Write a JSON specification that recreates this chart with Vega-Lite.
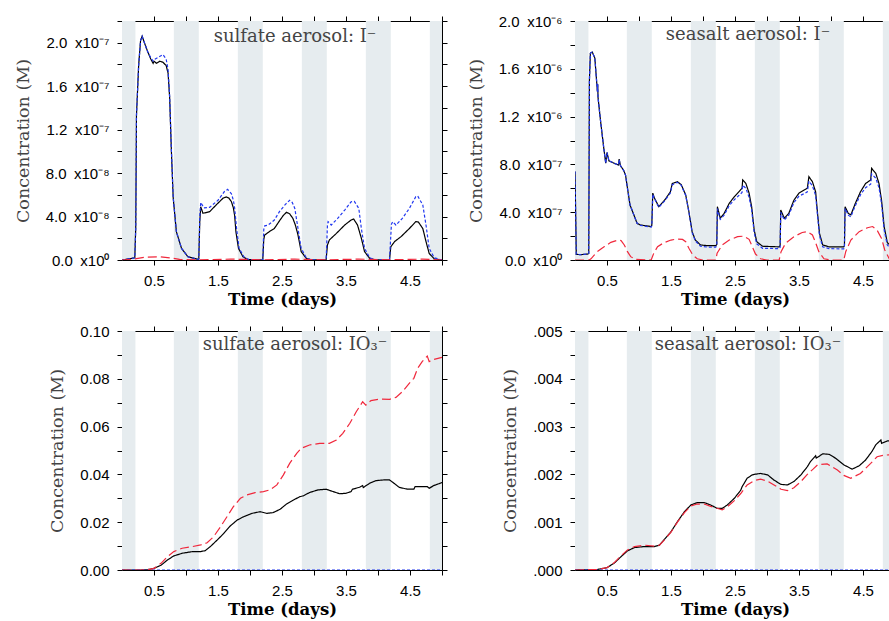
{
  "$schema": "https://vega.github.io/schema/vega-lite/v6.json",
  "autosize": {"type": "none"},
  "padding": {"left": 122, "top": 21, "right": 767, "bottom": 600},
  "background": "white",
  "columns": 2,
  "spacing": {"row": 71, "column": 133},
  "bounds": "flush",
  "config": {
    "view": {"stroke": null},
    "axis": {"grid": false, "domainColor": "#000", "domainWidth": 1, "tickColor": "#000", "tickWidth": 1, "tickSize": 5, "labelFont": "Liberation Sans", "labelFontSize": 15, "labelColor": "#000", "titleFont": "DejaVu Serif", "titleColor": "#000"},
    "axisBottom": {"labelPadding": 8, "titlePadding": 3, "titleFontSize": 16.5, "titleFontWeight": "bold", "zindex": 1},
    "axisLeft": {"labelPadding": 8, "titlePadding": 13, "titleFontSize": 17.5, "titleFontWeight": "normal", "titleColor": "#444"},
    "title": {"font": "DejaVu Serif", "fontSize": 18, "fontWeight": "normal", "color": "#444", "anchor": "middle", "frame": "group", "dx": 13, "offset": -30}
  },
  "datasets": {
    "bands": [
      {"start": 0, "end": 0.21},
      {"start": 0.81, "end": 1.2},
      {"start": 1.81, "end": 2.2},
      {"start": 2.81, "end": 3.2},
      {"start": 3.81, "end": 4.2},
      {"start": 4.81, "end": 5.0}
    ],
    "p1": [
      {"s": "A", "t": 0, "v": 0}, {"s": "A", "t": 0.1, "v": 1e-9}, {"s": "A", "t": 0.2, "v": 2e-9}, {"s": "A", "t": 0.215, "v": 3e-8}, {"s": "A", "t": 0.226, "v": 1.33e-7}, {"s": "A", "t": 0.26, "v": 1.79e-7}, {"s": "A", "t": 0.29, "v": 2.02e-7}, {"s": "A", "t": 0.315, "v": 2.06e-7}, {"s": "A", "t": 0.35, "v": 2.0e-7}, {"s": "A", "t": 0.4, "v": 1.92e-7}, {"s": "A", "t": 0.45, "v": 1.85e-7}, {"s": "A", "t": 0.486, "v": 1.81e-7}, {"s": "A", "t": 0.5, "v": 1.83e-7}, {"s": "A", "t": 0.54, "v": 1.81e-7}, {"s": "A", "t": 0.59, "v": 1.83e-7}, {"s": "A", "t": 0.64, "v": 1.82e-7}, {"s": "A", "t": 0.69, "v": 1.79e-7}, {"s": "A", "t": 0.72, "v": 1.72e-7}, {"s": "A", "t": 0.745, "v": 1.49e-7}, {"s": "A", "t": 0.77, "v": 1.03e-7}, {"s": "A", "t": 0.8, "v": 5.7e-8}, {"s": "A", "t": 0.85, "v": 2.6e-8}, {"s": "A", "t": 0.93, "v": 1.07e-8}, {"s": "A", "t": 1.03, "v": 3e-9}, {"s": "A", "t": 1.19, "v": 6e-10},
      {"s": "A", "t": 1.2, "v": 1e-9}, {"s": "A", "t": 1.215, "v": 3.5e-8}, {"s": "A", "t": 1.23, "v": 4.9e-8}, {"s": "A", "t": 1.265, "v": 4.3e-8}, {"s": "A", "t": 1.37, "v": 4.45e-8}, {"s": "A", "t": 1.47, "v": 5.06e-8}, {"s": "A", "t": 1.58, "v": 5.7e-8}, {"s": "A", "t": 1.63, "v": 5.8e-8}, {"s": "A", "t": 1.67, "v": 5.7e-8}, {"s": "A", "t": 1.71, "v": 5.36e-8}, {"s": "A", "t": 1.74, "v": 4.8e-8}, {"s": "A", "t": 1.76, "v": 4.1e-8}, {"s": "A", "t": 1.78, "v": 2.6e-8}, {"s": "A", "t": 1.82, "v": 1.07e-8}, {"s": "A", "t": 1.89, "v": 3e-9}, {"s": "A", "t": 1.96, "v": 5e-10}, {"s": "A", "t": 2.19, "v": 0},
      {"s": "A", "t": 2.2, "v": 5e-10}, {"s": "A", "t": 2.215, "v": 1.9e-8}, {"s": "A", "t": 2.23, "v": 2.3e-8}, {"s": "A", "t": 2.3, "v": 2.6e-8}, {"s": "A", "t": 2.38, "v": 2.9e-8}, {"s": "A", "t": 2.46, "v": 3.6e-8}, {"s": "A", "t": 2.52, "v": 4.1e-8}, {"s": "A", "t": 2.57, "v": 4.39e-8}, {"s": "A", "t": 2.62, "v": 4.25e-8}, {"s": "A", "t": 2.67, "v": 3.83e-8}, {"s": "A", "t": 2.71, "v": 3.2e-8}, {"s": "A", "t": 2.75, "v": 2.3e-8}, {"s": "A", "t": 2.8, "v": 7.7e-9}, {"s": "A", "t": 2.88, "v": 1.5e-9}, {"s": "A", "t": 2.95, "v": 2e-10}, {"s": "A", "t": 3.18, "v": 0},
      {"s": "A", "t": 3.19, "v": 5e-10}, {"s": "A", "t": 3.21, "v": 1.38e-8}, {"s": "A", "t": 3.24, "v": 1.84e-8}, {"s": "A", "t": 3.35, "v": 2.45e-8}, {"s": "A", "t": 3.48, "v": 3.22e-8}, {"s": "A", "t": 3.58, "v": 3.68e-8}, {"s": "A", "t": 3.62, "v": 3.77e-8}, {"s": "A", "t": 3.68, "v": 3.22e-8}, {"s": "A", "t": 3.74, "v": 2.0e-8}, {"s": "A", "t": 3.79, "v": 7.7e-9}, {"s": "A", "t": 3.87, "v": 1.5e-9}, {"s": "A", "t": 3.95, "v": 2e-10}, {"s": "A", "t": 4.17, "v": 0},
      {"s": "A", "t": 4.18, "v": 5e-10}, {"s": "A", "t": 4.2, "v": 1.22e-8}, {"s": "A", "t": 4.26, "v": 1.7e-8}, {"s": "A", "t": 4.36, "v": 2.15e-8}, {"s": "A", "t": 4.49, "v": 2.9e-8}, {"s": "A", "t": 4.59, "v": 3.53e-8}, {"s": "A", "t": 4.63, "v": 3.5e-8}, {"s": "A", "t": 4.7, "v": 2.9e-8}, {"s": "A", "t": 4.75, "v": 1.7e-8}, {"s": "A", "t": 4.8, "v": 6e-9}, {"s": "A", "t": 4.88, "v": 1e-9}, {"s": "A", "t": 5.0, "v": 0},

      {"s": "B", "t": 0, "v": 0}, {"s": "B", "t": 0.1, "v": 1e-9}, {"s": "B", "t": 0.2, "v": 2e-9}, {"s": "B", "t": 0.215, "v": 3e-8}, {"s": "B", "t": 0.226, "v": 1.33e-7}, {"s": "B", "t": 0.26, "v": 1.79e-7}, {"s": "B", "t": 0.29, "v": 2.02e-7}, {"s": "B", "t": 0.315, "v": 2.06e-7}, {"s": "B", "t": 0.35, "v": 2.0e-7}, {"s": "B", "t": 0.4, "v": 1.92e-7}, {"s": "B", "t": 0.45, "v": 1.86e-7}, {"s": "B", "t": 0.486, "v": 1.83e-7}, {"s": "B", "t": 0.52, "v": 1.85e-7}, {"s": "B", "t": 0.58, "v": 1.87e-7}, {"s": "B", "t": 0.64, "v": 1.89e-7}, {"s": "B", "t": 0.69, "v": 1.85e-7}, {"s": "B", "t": 0.72, "v": 1.75e-7}, {"s": "B", "t": 0.745, "v": 1.5e-7}, {"s": "B", "t": 0.77, "v": 1.04e-7}, {"s": "B", "t": 0.8, "v": 5.8e-8}, {"s": "B", "t": 0.85, "v": 2.6e-8}, {"s": "B", "t": 0.93, "v": 1.07e-8}, {"s": "B", "t": 1.03, "v": 3e-9}, {"s": "B", "t": 1.19, "v": 6e-10},
      {"s": "B", "t": 1.2, "v": 1e-9}, {"s": "B", "t": 1.215, "v": 4e-8}, {"s": "B", "t": 1.23, "v": 5.3e-8}, {"s": "B", "t": 1.28, "v": 4.8e-8}, {"s": "B", "t": 1.37, "v": 4.85e-8}, {"s": "B", "t": 1.5, "v": 5.5e-8}, {"s": "B", "t": 1.6, "v": 6.3e-8}, {"s": "B", "t": 1.65, "v": 6.5e-8}, {"s": "B", "t": 1.71, "v": 6.1e-8}, {"s": "B", "t": 1.74, "v": 5.5e-8}, {"s": "B", "t": 1.76, "v": 4.8e-8}, {"s": "B", "t": 1.79, "v": 2.9e-8}, {"s": "B", "t": 1.83, "v": 1.07e-8}, {"s": "B", "t": 1.91, "v": 2.5e-9}, {"s": "B", "t": 1.98, "v": 5e-10}, {"s": "B", "t": 2.19, "v": 0},
      {"s": "B", "t": 2.2, "v": 5e-10}, {"s": "B", "t": 2.215, "v": 2.8e-8}, {"s": "B", "t": 2.23, "v": 3.14e-8}, {"s": "B", "t": 2.28, "v": 3.2e-8}, {"s": "B", "t": 2.38, "v": 3.68e-8}, {"s": "B", "t": 2.46, "v": 4.45e-8}, {"s": "B", "t": 2.55, "v": 5.1e-8}, {"s": "B", "t": 2.62, "v": 5.5e-8}, {"s": "B", "t": 2.66, "v": 5.3e-8}, {"s": "B", "t": 2.7, "v": 4.75e-8}, {"s": "B", "t": 2.75, "v": 2.9e-8}, {"s": "B", "t": 2.8, "v": 1.07e-8}, {"s": "B", "t": 2.88, "v": 2e-9}, {"s": "B", "t": 2.95, "v": 2e-10}, {"s": "B", "t": 3.18, "v": 0},
      {"s": "B", "t": 3.19, "v": 5e-10}, {"s": "B", "t": 3.21, "v": 3.2e-8}, {"s": "B", "t": 3.22, "v": 3.53e-8}, {"s": "B", "t": 3.27, "v": 3.22e-8}, {"s": "B", "t": 3.37, "v": 3.83e-8}, {"s": "B", "t": 3.48, "v": 4.6e-8}, {"s": "B", "t": 3.58, "v": 5.36e-8}, {"s": "B", "t": 3.63, "v": 5.4e-8}, {"s": "B", "t": 3.7, "v": 4.75e-8}, {"s": "B", "t": 3.74, "v": 2.9e-8}, {"s": "B", "t": 3.79, "v": 1.07e-8}, {"s": "B", "t": 3.87, "v": 2e-9}, {"s": "B", "t": 3.95, "v": 2e-10}, {"s": "B", "t": 4.17, "v": 0},
      {"s": "B", "t": 4.18, "v": 5e-10}, {"s": "B", "t": 4.21, "v": 3.3e-8}, {"s": "B", "t": 4.23, "v": 3.53e-8}, {"s": "B", "t": 4.28, "v": 3.22e-8}, {"s": "B", "t": 4.38, "v": 3.83e-8}, {"s": "B", "t": 4.49, "v": 4.75e-8}, {"s": "B", "t": 4.59, "v": 5.82e-8}, {"s": "B", "t": 4.62, "v": 5.9e-8}, {"s": "B", "t": 4.7, "v": 5.06e-8}, {"s": "B", "t": 4.75, "v": 3.22e-8}, {"s": "B", "t": 4.8, "v": 1.07e-8}, {"s": "B", "t": 4.88, "v": 2e-9}, {"s": "B", "t": 5.0, "v": 0},

      {"s": "C", "t": 0, "v": 0}, {"s": "C", "t": 0.2, "v": 1e-9}, {"s": "C", "t": 0.35, "v": 2.5e-9}, {"s": "C", "t": 0.6, "v": 3e-9}, {"s": "C", "t": 0.75, "v": 2e-9}, {"s": "C", "t": 0.9, "v": 5e-10}, {"s": "C", "t": 1.2, "v": 2e-10}, {"s": "C", "t": 1.7, "v": 8e-10}, {"s": "C", "t": 2.2, "v": 2e-10}, {"s": "C", "t": 2.7, "v": 8e-10}, {"s": "C", "t": 3.2, "v": 2e-10}, {"s": "C", "t": 3.7, "v": 8e-10}, {"s": "C", "t": 4.2, "v": 2e-10}, {"s": "C", "t": 4.7, "v": 8e-10}, {"s": "C", "t": 5.0, "v": 0}
    ],
    "p2": [
      {"s": "A", "t": 0, "v": 7.4e-7}, {"s": "A", "t": 0.01, "v": 4e-7}, {"s": "A", "t": 0.02, "v": 4.7e-8}, {"s": "A", "t": 0.1, "v": 4.5e-8}, {"s": "A", "t": 0.2, "v": 5e-8}, {"s": "A", "t": 0.215, "v": 5.5e-8}, {"s": "A", "t": 0.225, "v": 1.5e-6}, {"s": "A", "t": 0.24, "v": 1.73e-6}, {"s": "A", "t": 0.27, "v": 1.74e-6}, {"s": "A", "t": 0.31, "v": 1.69e-6}, {"s": "A", "t": 0.35, "v": 1.41e-6}, {"s": "A", "t": 0.355, "v": 1.47e-6}, {"s": "A", "t": 0.36, "v": 1.36e-6}, {"s": "A", "t": 0.4, "v": 1.16e-6}, {"s": "A", "t": 0.45, "v": 9.35e-7}, {"s": "A", "t": 0.48, "v": 8.1e-7}, {"s": "A", "t": 0.5, "v": 9.0e-7}, {"s": "A", "t": 0.53, "v": 8.3e-7}, {"s": "A", "t": 0.61, "v": 8.1e-7}, {"s": "A", "t": 0.68, "v": 7.95e-7}, {"s": "A", "t": 0.69, "v": 8.45e-7}, {"s": "A", "t": 0.71, "v": 7.9e-7}, {"s": "A", "t": 0.76, "v": 7.5e-7}, {"s": "A", "t": 0.79, "v": 7.1e-7}, {"s": "A", "t": 0.82, "v": 6.0e-7}, {"s": "A", "t": 0.86, "v": 4.6e-7}, {"s": "A", "t": 0.92, "v": 3.77e-7}, {"s": "A", "t": 0.97, "v": 3.07e-7}, {"s": "A", "t": 1.02, "v": 2.93e-7}, {"s": "A", "t": 1.19, "v": 2.8e-7},
      {"s": "A", "t": 1.2, "v": 2.9e-7}, {"s": "A", "t": 1.215, "v": 5.6e-7}, {"s": "A", "t": 1.24, "v": 5.2e-7}, {"s": "A", "t": 1.31, "v": 4.46e-7}, {"s": "A", "t": 1.4, "v": 5.0e-7}, {"s": "A", "t": 1.49, "v": 5.7e-7}, {"s": "A", "t": 1.52, "v": 6.4e-7}, {"s": "A", "t": 1.6, "v": 6.55e-7}, {"s": "A", "t": 1.66, "v": 6.3e-7}, {"s": "A", "t": 1.73, "v": 5.44e-7}, {"s": "A", "t": 1.78, "v": 4.04e-7}, {"s": "A", "t": 1.83, "v": 2.37e-7}, {"s": "A", "t": 1.88, "v": 1.67e-7}, {"s": "A", "t": 1.96, "v": 1.26e-7}, {"s": "A", "t": 2.07, "v": 1.2e-7}, {"s": "A", "t": 2.2, "v": 1.2e-7},
      {"s": "A", "t": 2.215, "v": 1.3e-7}, {"s": "A", "t": 2.225, "v": 4.46e-7}, {"s": "A", "t": 2.27, "v": 3.5e-7}, {"s": "A", "t": 2.33, "v": 3.9e-7}, {"s": "A", "t": 2.41, "v": 4.74e-7}, {"s": "A", "t": 2.49, "v": 5.3e-7}, {"s": "A", "t": 2.56, "v": 5.7e-7}, {"s": "A", "t": 2.61, "v": 6.0e-7}, {"s": "A", "t": 2.62, "v": 6.7e-7}, {"s": "A", "t": 2.67, "v": 6.4e-7}, {"s": "A", "t": 2.72, "v": 5.6e-7}, {"s": "A", "t": 2.76, "v": 4.46e-7}, {"s": "A", "t": 2.8, "v": 2.5e-7}, {"s": "A", "t": 2.84, "v": 1.53e-7}, {"s": "A", "t": 2.93, "v": 1.15e-7}, {"s": "A", "t": 3.19, "v": 1.1e-7},
      {"s": "A", "t": 3.205, "v": 1.2e-7}, {"s": "A", "t": 3.215, "v": 4.18e-7}, {"s": "A", "t": 3.27, "v": 3.5e-7}, {"s": "A", "t": 3.34, "v": 3.9e-7}, {"s": "A", "t": 3.42, "v": 5.0e-7}, {"s": "A", "t": 3.5, "v": 5.6e-7}, {"s": "A", "t": 3.58, "v": 5.86e-7}, {"s": "A", "t": 3.63, "v": 6.0e-7}, {"s": "A", "t": 3.655, "v": 6.97e-7}, {"s": "A", "t": 3.71, "v": 6.55e-7}, {"s": "A", "t": 3.76, "v": 5.7e-7}, {"s": "A", "t": 3.79, "v": 3.9e-7}, {"s": "A", "t": 3.82, "v": 2.23e-7}, {"s": "A", "t": 3.87, "v": 1.26e-7}, {"s": "A", "t": 3.97, "v": 1.1e-7}, {"s": "A", "t": 4.2, "v": 1.1e-7},
      {"s": "A", "t": 4.21, "v": 1.2e-7}, {"s": "A", "t": 4.22, "v": 4.46e-7}, {"s": "A", "t": 4.27, "v": 3.9e-7}, {"s": "A", "t": 4.31, "v": 3.77e-7}, {"s": "A", "t": 4.38, "v": 4.74e-7}, {"s": "A", "t": 4.46, "v": 5.7e-7}, {"s": "A", "t": 4.54, "v": 6.4e-7}, {"s": "A", "t": 4.62, "v": 6.7e-7}, {"s": "A", "t": 4.635, "v": 7.67e-7}, {"s": "A", "t": 4.7, "v": 7.25e-7}, {"s": "A", "t": 4.75, "v": 6.4e-7}, {"s": "A", "t": 4.79, "v": 5.0e-7}, {"s": "A", "t": 4.83, "v": 2.8e-7}, {"s": "A", "t": 4.88, "v": 1.45e-7}, {"s": "A", "t": 4.92, "v": 1.26e-7}, {"s": "A", "t": 5.0, "v": 1.2e-7},

      {"s": "B", "t": 0, "v": 7.4e-7}, {"s": "B", "t": 0.01, "v": 4e-7}, {"s": "B", "t": 0.02, "v": 4.7e-8}, {"s": "B", "t": 0.1, "v": 4.5e-8}, {"s": "B", "t": 0.2, "v": 5e-8}, {"s": "B", "t": 0.215, "v": 5.5e-8}, {"s": "B", "t": 0.225, "v": 1.5e-6}, {"s": "B", "t": 0.24, "v": 1.73e-6}, {"s": "B", "t": 0.27, "v": 1.74e-6}, {"s": "B", "t": 0.31, "v": 1.69e-6}, {"s": "B", "t": 0.35, "v": 1.41e-6}, {"s": "B", "t": 0.355, "v": 1.47e-6}, {"s": "B", "t": 0.36, "v": 1.36e-6}, {"s": "B", "t": 0.4, "v": 1.16e-6}, {"s": "B", "t": 0.45, "v": 9.35e-7}, {"s": "B", "t": 0.48, "v": 8.1e-7}, {"s": "B", "t": 0.5, "v": 9.0e-7}, {"s": "B", "t": 0.53, "v": 8.3e-7}, {"s": "B", "t": 0.61, "v": 8.1e-7}, {"s": "B", "t": 0.68, "v": 7.95e-7}, {"s": "B", "t": 0.69, "v": 8.4e-7}, {"s": "B", "t": 0.71, "v": 7.9e-7}, {"s": "B", "t": 0.76, "v": 7.5e-7}, {"s": "B", "t": 0.79, "v": 7.1e-7}, {"s": "B", "t": 0.82, "v": 6.0e-7}, {"s": "B", "t": 0.86, "v": 4.6e-7}, {"s": "B", "t": 0.92, "v": 3.77e-7}, {"s": "B", "t": 0.97, "v": 3.07e-7}, {"s": "B", "t": 1.02, "v": 2.9e-7}, {"s": "B", "t": 1.19, "v": 2.75e-7},
      {"s": "B", "t": 1.2, "v": 2.85e-7}, {"s": "B", "t": 1.215, "v": 5.5e-7}, {"s": "B", "t": 1.24, "v": 5.15e-7}, {"s": "B", "t": 1.31, "v": 4.4e-7}, {"s": "B", "t": 1.4, "v": 4.95e-7}, {"s": "B", "t": 1.49, "v": 5.6e-7}, {"s": "B", "t": 1.52, "v": 6.3e-7}, {"s": "B", "t": 1.6, "v": 6.5e-7}, {"s": "B", "t": 1.66, "v": 6.25e-7}, {"s": "B", "t": 1.73, "v": 5.4e-7}, {"s": "B", "t": 1.78, "v": 4.0e-7}, {"s": "B", "t": 1.83, "v": 2.3e-7}, {"s": "B", "t": 1.88, "v": 1.6e-7}, {"s": "B", "t": 1.96, "v": 1.15e-7}, {"s": "B", "t": 2.07, "v": 1.08e-7}, {"s": "B", "t": 2.2, "v": 1.08e-7},
      {"s": "B", "t": 2.215, "v": 1.2e-7}, {"s": "B", "t": 2.225, "v": 4.3e-7}, {"s": "B", "t": 2.27, "v": 3.4e-7}, {"s": "B", "t": 2.33, "v": 3.75e-7}, {"s": "B", "t": 2.41, "v": 4.55e-7}, {"s": "B", "t": 2.49, "v": 5.05e-7}, {"s": "B", "t": 2.56, "v": 5.4e-7}, {"s": "B", "t": 2.61, "v": 5.65e-7}, {"s": "B", "t": 2.62, "v": 6.25e-7}, {"s": "B", "t": 2.67, "v": 6.0e-7}, {"s": "B", "t": 2.72, "v": 5.25e-7}, {"s": "B", "t": 2.76, "v": 4.2e-7}, {"s": "B", "t": 2.8, "v": 2.3e-7}, {"s": "B", "t": 2.84, "v": 1.35e-7}, {"s": "B", "t": 2.93, "v": 9.8e-8}, {"s": "B", "t": 3.19, "v": 9.5e-8},
      {"s": "B", "t": 3.205, "v": 1.05e-7}, {"s": "B", "t": 3.215, "v": 4.0e-7}, {"s": "B", "t": 3.27, "v": 3.35e-7}, {"s": "B", "t": 3.34, "v": 3.75e-7}, {"s": "B", "t": 3.42, "v": 4.8e-7}, {"s": "B", "t": 3.5, "v": 5.35e-7}, {"s": "B", "t": 3.58, "v": 5.55e-7}, {"s": "B", "t": 3.63, "v": 5.7e-7}, {"s": "B", "t": 3.655, "v": 6.6e-7}, {"s": "B", "t": 3.71, "v": 6.2e-7}, {"s": "B", "t": 3.76, "v": 5.4e-7}, {"s": "B", "t": 3.79, "v": 3.7e-7}, {"s": "B", "t": 3.82, "v": 2.05e-7}, {"s": "B", "t": 3.87, "v": 1.1e-7}, {"s": "B", "t": 3.97, "v": 9.5e-8}, {"s": "B", "t": 4.2, "v": 9.3e-8},
      {"s": "B", "t": 4.21, "v": 1.05e-7}, {"s": "B", "t": 4.22, "v": 4.3e-7}, {"s": "B", "t": 4.27, "v": 3.75e-7}, {"s": "B", "t": 4.31, "v": 3.62e-7}, {"s": "B", "t": 4.38, "v": 4.55e-7}, {"s": "B", "t": 4.46, "v": 5.45e-7}, {"s": "B", "t": 4.54, "v": 6.05e-7}, {"s": "B", "t": 4.62, "v": 6.35e-7}, {"s": "B", "t": 4.635, "v": 7.2e-7}, {"s": "B", "t": 4.7, "v": 6.85e-7}, {"s": "B", "t": 4.75, "v": 6.05e-7}, {"s": "B", "t": 4.79, "v": 4.7e-7}, {"s": "B", "t": 4.83, "v": 2.55e-7}, {"s": "B", "t": 4.88, "v": 1.25e-7}, {"s": "B", "t": 4.92, "v": 1.05e-7}, {"s": "B", "t": 5.0, "v": 1.0e-7},

      {"s": "C", "t": 0, "v": 0}, {"s": "C", "t": 0.22, "v": 0}, {"s": "C", "t": 0.25, "v": 1e-8}, {"s": "C", "t": 0.3, "v": 4e-8}, {"s": "C", "t": 0.35, "v": 7e-8}, {"s": "C", "t": 0.46, "v": 1.12e-7}, {"s": "C", "t": 0.56, "v": 1.48e-7}, {"s": "C", "t": 0.67, "v": 1.67e-7}, {"s": "C", "t": 0.72, "v": 1.62e-7}, {"s": "C", "t": 0.77, "v": 1.26e-7}, {"s": "C", "t": 0.82, "v": 7e-8}, {"s": "C", "t": 0.87, "v": 2.8e-8}, {"s": "C", "t": 0.95, "v": 5e-9}, {"s": "C", "t": 1.19, "v": 0},
      {"s": "C", "t": 1.23, "v": 5.6e-8}, {"s": "C", "t": 1.29, "v": 1.12e-7}, {"s": "C", "t": 1.39, "v": 1.45e-7}, {"s": "C", "t": 1.5, "v": 1.67e-7}, {"s": "C", "t": 1.6, "v": 1.76e-7}, {"s": "C", "t": 1.68, "v": 1.72e-7}, {"s": "C", "t": 1.73, "v": 1.53e-7}, {"s": "C", "t": 1.78, "v": 9.8e-8}, {"s": "C", "t": 1.84, "v": 4.2e-8}, {"s": "C", "t": 1.91, "v": 1e-8}, {"s": "C", "t": 2.0, "v": 0}, {"s": "C", "t": 2.2, "v": 0},
      {"s": "C", "t": 2.22, "v": 5.6e-8}, {"s": "C", "t": 2.3, "v": 1.26e-7}, {"s": "C", "t": 2.41, "v": 1.67e-7}, {"s": "C", "t": 2.54, "v": 1.95e-7}, {"s": "C", "t": 2.64, "v": 2.0e-7}, {"s": "C", "t": 2.72, "v": 1.73e-7}, {"s": "C", "t": 2.77, "v": 1.12e-7}, {"s": "C", "t": 2.82, "v": 5e-8}, {"s": "C", "t": 2.9, "v": 1e-8}, {"s": "C", "t": 3.0, "v": 0}, {"s": "C", "t": 3.19, "v": 0},
      {"s": "C", "t": 3.22, "v": 7e-8}, {"s": "C", "t": 3.29, "v": 1.4e-7}, {"s": "C", "t": 3.42, "v": 1.95e-7}, {"s": "C", "t": 3.55, "v": 2.3e-7}, {"s": "C", "t": 3.63, "v": 2.37e-7}, {"s": "C", "t": 3.71, "v": 2.1e-7}, {"s": "C", "t": 3.76, "v": 1.45e-7}, {"s": "C", "t": 3.81, "v": 7e-8}, {"s": "C", "t": 3.89, "v": 1e-8}, {"s": "C", "t": 4.0, "v": 0}, {"s": "C", "t": 4.2, "v": 0},
      {"s": "C", "t": 4.23, "v": 7e-8}, {"s": "C", "t": 4.31, "v": 1.67e-7}, {"s": "C", "t": 4.44, "v": 2.37e-7}, {"s": "C", "t": 4.57, "v": 2.7e-7}, {"s": "C", "t": 4.65, "v": 2.8e-7}, {"s": "C", "t": 4.72, "v": 2.5e-7}, {"s": "C", "t": 4.79, "v": 1.8e-7}, {"s": "C", "t": 4.84, "v": 8.4e-8}, {"s": "C", "t": 4.91, "v": 1e-8}, {"s": "C", "t": 5.0, "v": 0}
    ],
    "p3": [
      {"s": "A", "t": 0, "v": 0}, {"s": "A", "t": 0.3, "v": 0}, {"s": "A", "t": 0.4, "v": 0.0001}, {"s": "A", "t": 0.5, "v": 0.0007}, {"s": "A", "t": 0.61, "v": 0.002}, {"s": "A", "t": 0.71, "v": 0.0042}, {"s": "A", "t": 0.81, "v": 0.0059}, {"s": "A", "t": 0.94, "v": 0.007}, {"s": "A", "t": 1.1, "v": 0.0077}, {"s": "A", "t": 1.23, "v": 0.0077}, {"s": "A", "t": 1.3, "v": 0.0081}, {"s": "A", "t": 1.38, "v": 0.0098}, {"s": "A", "t": 1.49, "v": 0.0126}, {"s": "A", "t": 1.59, "v": 0.0153}, {"s": "A", "t": 1.69, "v": 0.0184}, {"s": "A", "t": 1.8, "v": 0.0209}, {"s": "A", "t": 1.9, "v": 0.0223}, {"s": "A", "t": 2.03, "v": 0.0237}, {"s": "A", "t": 2.16, "v": 0.0244}, {"s": "A", "t": 2.26, "v": 0.0237}, {"s": "A", "t": 2.36, "v": 0.024}, {"s": "A", "t": 2.47, "v": 0.0254}, {"s": "A", "t": 2.57, "v": 0.0276}, {"s": "A", "t": 2.68, "v": 0.0293}, {"s": "A", "t": 2.78, "v": 0.0307}, {"s": "A", "t": 2.83, "v": 0.031}, {"s": "A", "t": 2.93, "v": 0.0324}, {"s": "A", "t": 3.06, "v": 0.0335}, {"s": "A", "t": 3.19, "v": 0.0338}, {"s": "A", "t": 3.3, "v": 0.0328}, {"s": "A", "t": 3.4, "v": 0.0319}, {"s": "A", "t": 3.5, "v": 0.0321}, {"s": "A", "t": 3.58, "v": 0.0328}, {"s": "A", "t": 3.6, "v": 0.0338}, {"s": "A", "t": 3.71, "v": 0.0346}, {"s": "A", "t": 3.76, "v": 0.0353}, {"s": "A", "t": 3.77, "v": 0.0345}, {"s": "A", "t": 3.87, "v": 0.0363}, {"s": "A", "t": 3.97, "v": 0.0374}, {"s": "A", "t": 4.1, "v": 0.0377}, {"s": "A", "t": 4.18, "v": 0.0377}, {"s": "A", "t": 4.25, "v": 0.0363}, {"s": "A", "t": 4.33, "v": 0.0346}, {"s": "A", "t": 4.46, "v": 0.0338}, {"s": "A", "t": 4.56, "v": 0.0338}, {"s": "A", "t": 4.58, "v": 0.0349}, {"s": "A", "t": 4.77, "v": 0.0349}, {"s": "A", "t": 4.8, "v": 0.0342}, {"s": "A", "t": 4.87, "v": 0.0353}, {"s": "A", "t": 5.0, "v": 0.0366},
      {"s": "B", "t": 0, "v": 0}, {"s": "B", "t": 2.5, "v": 0}, {"s": "B", "t": 5.0, "v": 0},
      {"s": "C", "t": 0, "v": 0}, {"s": "C", "t": 0.3, "v": 0}, {"s": "C", "t": 0.4, "v": 0.0001}, {"s": "C", "t": 0.5, "v": 0.0007}, {"s": "C", "t": 0.61, "v": 0.0028}, {"s": "C", "t": 0.71, "v": 0.0056}, {"s": "C", "t": 0.81, "v": 0.0077}, {"s": "C", "t": 0.94, "v": 0.0091}, {"s": "C", "t": 1.1, "v": 0.0098}, {"s": "C", "t": 1.23, "v": 0.0105}, {"s": "C", "t": 1.33, "v": 0.0114}, {"s": "C", "t": 1.43, "v": 0.0139}, {"s": "C", "t": 1.54, "v": 0.0181}, {"s": "C", "t": 1.64, "v": 0.0223}, {"s": "C", "t": 1.74, "v": 0.0265}, {"s": "C", "t": 1.85, "v": 0.03}, {"s": "C", "t": 1.95, "v": 0.0314}, {"s": "C", "t": 2.08, "v": 0.0324}, {"s": "C", "t": 2.21, "v": 0.0328}, {"s": "C", "t": 2.31, "v": 0.0335}, {"s": "C", "t": 2.42, "v": 0.0356}, {"s": "C", "t": 2.52, "v": 0.0397}, {"s": "C", "t": 2.62, "v": 0.0446}, {"s": "C", "t": 2.73, "v": 0.0488}, {"s": "C", "t": 2.8, "v": 0.0509}, {"s": "C", "t": 2.93, "v": 0.0523}, {"s": "C", "t": 3.09, "v": 0.053}, {"s": "C", "t": 3.24, "v": 0.053}, {"s": "C", "t": 3.35, "v": 0.0544}, {"s": "C", "t": 3.45, "v": 0.0572}, {"s": "C", "t": 3.56, "v": 0.0614}, {"s": "C", "t": 3.66, "v": 0.0662}, {"s": "C", "t": 3.76, "v": 0.0704}, {"s": "C", "t": 3.81, "v": 0.069}, {"s": "C", "t": 3.89, "v": 0.0709}, {"s": "C", "t": 4.02, "v": 0.0715}, {"s": "C", "t": 4.18, "v": 0.0714}, {"s": "C", "t": 4.28, "v": 0.0722}, {"s": "C", "t": 4.38, "v": 0.0746}, {"s": "C", "t": 4.51, "v": 0.0788}, {"s": "C", "t": 4.56, "v": 0.0802}, {"s": "C", "t": 4.62, "v": 0.0844}, {"s": "C", "t": 4.69, "v": 0.0872}, {"s": "C", "t": 4.77, "v": 0.0895}, {"s": "C", "t": 4.8, "v": 0.0872}, {"s": "C", "t": 4.87, "v": 0.0881}, {"s": "C", "t": 5.0, "v": 0.089}
    ],
    "p4": [
      {"s": "A", "t": 0, "v": 0}, {"s": "A", "t": 0.35, "v": 0.00001}, {"s": "A", "t": 0.5, "v": 0.00005}, {"s": "A", "t": 0.61, "v": 0.00014}, {"s": "A", "t": 0.72, "v": 0.00028}, {"s": "A", "t": 0.82, "v": 0.0004}, {"s": "A", "t": 0.93, "v": 0.00047}, {"s": "A", "t": 1.08, "v": 0.00049}, {"s": "A", "t": 1.24, "v": 0.00049}, {"s": "A", "t": 1.32, "v": 0.00052}, {"s": "A", "t": 1.39, "v": 0.00063}, {"s": "A", "t": 1.5, "v": 0.0008}, {"s": "A", "t": 1.6, "v": 0.00101}, {"s": "A", "t": 1.71, "v": 0.00122}, {"s": "A", "t": 1.81, "v": 0.00136}, {"s": "A", "t": 1.91, "v": 0.00141}, {"s": "A", "t": 2.02, "v": 0.00141}, {"s": "A", "t": 2.12, "v": 0.00136}, {"s": "A", "t": 2.22, "v": 0.00129}, {"s": "A", "t": 2.3, "v": 0.00129}, {"s": "A", "t": 2.38, "v": 0.00136}, {"s": "A", "t": 2.49, "v": 0.0015}, {"s": "A", "t": 2.59, "v": 0.00167}, {"s": "A", "t": 2.61, "v": 0.00174}, {"s": "A", "t": 2.69, "v": 0.00192}, {"s": "A", "t": 2.77, "v": 0.00199}, {"s": "A", "t": 2.8, "v": 0.002}, {"s": "A", "t": 2.9, "v": 0.00202}, {"s": "A", "t": 3.01, "v": 0.00199}, {"s": "A", "t": 3.11, "v": 0.00188}, {"s": "A", "t": 3.22, "v": 0.00179}, {"s": "A", "t": 3.32, "v": 0.00178}, {"s": "A", "t": 3.42, "v": 0.00185}, {"s": "A", "t": 3.53, "v": 0.00199}, {"s": "A", "t": 3.63, "v": 0.00216}, {"s": "A", "t": 3.68, "v": 0.00227}, {"s": "A", "t": 3.76, "v": 0.00239}, {"s": "A", "t": 3.77, "v": 0.00234}, {"s": "A", "t": 3.87, "v": 0.00243}, {"s": "A", "t": 3.97, "v": 0.00242}, {"s": "A", "t": 4.07, "v": 0.00234}, {"s": "A", "t": 4.2, "v": 0.0022}, {"s": "A", "t": 4.33, "v": 0.00211}, {"s": "A", "t": 4.44, "v": 0.00218}, {"s": "A", "t": 4.54, "v": 0.0023}, {"s": "A", "t": 4.64, "v": 0.00248}, {"s": "A", "t": 4.7, "v": 0.00262}, {"s": "A", "t": 4.78, "v": 0.00272}, {"s": "A", "t": 4.79, "v": 0.00265}, {"s": "A", "t": 4.88, "v": 0.0027}, {"s": "A", "t": 5.0, "v": 0.0027},
      {"s": "B", "t": 0, "v": 0}, {"s": "B", "t": 2.5, "v": 0}, {"s": "B", "t": 5.0, "v": 0},
      {"s": "C", "t": 0, "v": 0}, {"s": "C", "t": 0.35, "v": 0.00001}, {"s": "C", "t": 0.5, "v": 0.00005}, {"s": "C", "t": 0.61, "v": 0.00015}, {"s": "C", "t": 0.72, "v": 0.0003}, {"s": "C", "t": 0.82, "v": 0.00042}, {"s": "C", "t": 0.93, "v": 0.00049}, {"s": "C", "t": 1.08, "v": 0.00052}, {"s": "C", "t": 1.24, "v": 0.0005}, {"s": "C", "t": 1.32, "v": 0.00052}, {"s": "C", "t": 1.39, "v": 0.00062}, {"s": "C", "t": 1.5, "v": 0.00079}, {"s": "C", "t": 1.6, "v": 0.001}, {"s": "C", "t": 1.71, "v": 0.0012}, {"s": "C", "t": 1.81, "v": 0.00134}, {"s": "C", "t": 1.91, "v": 0.00138}, {"s": "C", "t": 2.02, "v": 0.00138}, {"s": "C", "t": 2.12, "v": 0.00133}, {"s": "C", "t": 2.3, "v": 0.00126}, {"s": "C", "t": 2.38, "v": 0.00132}, {"s": "C", "t": 2.49, "v": 0.00145}, {"s": "C", "t": 2.59, "v": 0.0016}, {"s": "C", "t": 2.69, "v": 0.00178}, {"s": "C", "t": 2.8, "v": 0.00187}, {"s": "C", "t": 2.9, "v": 0.0019}, {"s": "C", "t": 3.01, "v": 0.00186}, {"s": "C", "t": 3.11, "v": 0.00178}, {"s": "C", "t": 3.22, "v": 0.00169}, {"s": "C", "t": 3.32, "v": 0.00166}, {"s": "C", "t": 3.42, "v": 0.00172}, {"s": "C", "t": 3.53, "v": 0.00185}, {"s": "C", "t": 3.63, "v": 0.002}, {"s": "C", "t": 3.72, "v": 0.00211}, {"s": "C", "t": 3.79, "v": 0.0022}, {"s": "C", "t": 3.94, "v": 0.00222}, {"s": "C", "t": 4.1, "v": 0.00209}, {"s": "C", "t": 4.2, "v": 0.00198}, {"s": "C", "t": 4.31, "v": 0.00192}, {"s": "C", "t": 4.46, "v": 0.00202}, {"s": "C", "t": 4.62, "v": 0.00223}, {"s": "C", "t": 4.72, "v": 0.00237}, {"s": "C", "t": 4.82, "v": 0.0024}, {"s": "C", "t": 5.0, "v": 0.00242}
    ]
  },
  "concat": [
    {
      "width": 320, "height": 239,
      "title": {"text": "sulfate aerosol: I⁻"},
      "layer": [
        {
          "data": {"name": "bands"},
          "mark": {"type": "rect", "color": "#e6ecef"},
          "encoding": {
            "x": {"field": "start", "type": "quantitative", "scale": {"domain": [0, 5], "nice": false}, "axis": {"orient": "bottom", "title": "Time (days)", "values": [0.5, 1, 1.5, 2, 2.5, 3, 3.5, 4, 4.5, 5], "labelExpr": "round(datum.value*2) % 2 == 1 ? format(datum.value, '.1f') : ''"}},
            "x2": {"field": "end"},
            "y": {"datum": 0, "type": "quantitative", "scale": {"domain": [0, 2.2e-7], "nice": false, "zero": true}, "axis": {"orient": "left", "title": "Concentration (M)", "values": [0, 2e-8, 4e-8, 6e-8, 8e-8, 1e-7, 1.2e-7, 1.4e-7, 1.6e-7, 1.8e-7, 2e-7, 2.2e-7], "labelExpr": "round(datum.value/2e-8) % 2 == 1 ? '' : (datum.value == 0 ? '0.0\u2002x10⁰' : datum.value < 9e-8 ? format(datum.value*1e8, '.1f') + '\u2002x10⁻⁸' : format(datum.value*1e7, '.1f') + '\u2002x10⁻⁷')"}},
            "y2": {"datum": 2.2e-7}
          }
        },
        {
          "data": {"name": "p1"},
          "mark": {"type": "line", "strokeWidth": 1.2, "clip": true},
          "encoding": {
            "x": {"field": "t", "type": "quantitative", "axis": {"orient": "top", "title": null, "labels": false, "values": [0.5, 1, 1.5, 2, 2.5, 3, 3.5, 4, 4.5, 5]}},
            "y": {"field": "v", "type": "quantitative", "axis": {"orient": "right", "title": null, "labels": false, "values": [0, 2e-8, 4e-8, 6e-8, 8e-8, 1e-7, 1.2e-7, 1.4e-7, 1.6e-7, 1.8e-7, 2e-7, 2.2e-7]}},
            "color": {"field": "s", "type": "nominal", "scale": {"domain": ["A", "B", "C"], "range": ["#000000", "#2238f0", "#f0283c"]}, "legend": null},
            "strokeDash": {"field": "s", "type": "nominal", "scale": {"domain": ["A", "B", "C"], "range": [[1, 0], [3, 2], [9, 4]]}, "legend": null}
          }
        }
      ],
      "resolve": {"axis": {"x": "independent", "y": "independent"}}
    },
    {
      "width": 320, "height": 239,
      "title": {"text": "seasalt aerosol: I⁻"},
      "layer": [
        {
          "data": {"name": "bands"},
          "mark": {"type": "rect", "color": "#e6ecef"},
          "encoding": {
            "x": {"field": "start", "type": "quantitative", "scale": {"domain": [0, 5], "nice": false}, "axis": {"orient": "bottom", "title": "Time (days)", "values": [0.5, 1, 1.5, 2, 2.5, 3, 3.5, 4, 4.5, 5], "labelExpr": "round(datum.value*2) % 2 == 1 ? format(datum.value, '.1f') : ''"}},
            "x2": {"field": "end"},
            "y": {"datum": 0, "type": "quantitative", "scale": {"domain": [0, 2e-6], "nice": false, "zero": true}, "axis": {"orient": "left", "title": "Concentration (M)", "values": [0, 2e-7, 4e-7, 6e-7, 8e-7, 1e-6, 1.2e-6, 1.4e-6, 1.6e-6, 1.8e-6, 2e-6], "labelExpr": "round(datum.value/2e-7) % 2 == 1 ? '' : (datum.value == 0 ? '0.0\u2002x10⁰' : datum.value < 9e-7 ? format(datum.value*1e7, '.1f') + '\u2002x10⁻⁷' : format(datum.value*1e6, '.1f') + '\u2002x10⁻⁶')"}},
            "y2": {"datum": 2e-6}
          }
        },
        {
          "data": {"name": "p2"},
          "mark": {"type": "line", "strokeWidth": 1.2, "clip": true},
          "encoding": {
            "x": {"field": "t", "type": "quantitative", "axis": {"orient": "top", "title": null, "labels": false, "values": [0.5, 1, 1.5, 2, 2.5, 3, 3.5, 4, 4.5, 5]}},
            "y": {"field": "v", "type": "quantitative", "axis": {"orient": "right", "title": null, "labels": false, "values": [0, 2e-7, 4e-7, 6e-7, 8e-7, 1e-6, 1.2e-6, 1.4e-6, 1.6e-6, 1.8e-6, 2e-6]}},
            "color": {"field": "s", "type": "nominal", "scale": {"domain": ["A", "B", "C"], "range": ["#000000", "#2238f0", "#f0283c"]}, "legend": null},
            "strokeDash": {"field": "s", "type": "nominal", "scale": {"domain": ["A", "B", "C"], "range": [[1, 0], [3, 2], [9, 4]]}, "legend": null}
          }
        }
      ],
      "resolve": {"axis": {"x": "independent", "y": "independent"}}
    },
    {
      "width": 320, "height": 239,
      "title": {"text": "sulfate aerosol: IO₃⁻"},
      "layer": [
        {
          "data": {"name": "bands"},
          "mark": {"type": "rect", "color": "#e6ecef"},
          "encoding": {
            "x": {"field": "start", "type": "quantitative", "scale": {"domain": [0, 5], "nice": false}, "axis": {"orient": "bottom", "title": "Time (days)", "values": [0.5, 1, 1.5, 2, 2.5, 3, 3.5, 4, 4.5, 5], "labelExpr": "round(datum.value*2) % 2 == 1 ? format(datum.value, '.1f') : ''"}},
            "x2": {"field": "end"},
            "y": {"datum": 0, "type": "quantitative", "scale": {"domain": [0, 0.1], "nice": false, "zero": true}, "axis": {"orient": "left", "title": "Concentration (M)", "values": [0, 0.01, 0.02, 0.03, 0.04, 0.05, 0.06, 0.07, 0.08, 0.09, 0.1], "labelExpr": "round(datum.value/0.01) % 2 == 1 ? '' : format(datum.value, '.2f')"}},
            "y2": {"datum": 0.1}
          }
        },
        {
          "data": {"name": "p3"},
          "mark": {"type": "line", "strokeWidth": 1.2, "clip": true},
          "encoding": {
            "x": {"field": "t", "type": "quantitative", "axis": {"orient": "top", "title": null, "labels": false, "values": [0.5, 1, 1.5, 2, 2.5, 3, 3.5, 4, 4.5, 5]}},
            "y": {"field": "v", "type": "quantitative", "axis": {"orient": "right", "title": null, "labels": false, "values": [0, 0.01, 0.02, 0.03, 0.04, 0.05, 0.06, 0.07, 0.08, 0.09, 0.1]}},
            "color": {"field": "s", "type": "nominal", "scale": {"domain": ["A", "B", "C"], "range": ["#000000", "#2238f0", "#f0283c"]}, "legend": null},
            "strokeDash": {"field": "s", "type": "nominal", "scale": {"domain": ["A", "B", "C"], "range": [[1, 0], [3, 2], [9, 4]]}, "legend": null}
          }
        }
      ],
      "resolve": {"axis": {"x": "independent", "y": "independent"}}
    },
    {
      "width": 320, "height": 239,
      "title": {"text": "seasalt aerosol: IO₃⁻"},
      "layer": [
        {
          "data": {"name": "bands"},
          "mark": {"type": "rect", "color": "#e6ecef"},
          "encoding": {
            "x": {"field": "start", "type": "quantitative", "scale": {"domain": [0, 5], "nice": false}, "axis": {"orient": "bottom", "title": "Time (days)", "values": [0.5, 1, 1.5, 2, 2.5, 3, 3.5, 4, 4.5, 5], "labelExpr": "round(datum.value*2) % 2 == 1 ? format(datum.value, '.1f') : ''"}},
            "x2": {"field": "end"},
            "y": {"datum": 0, "type": "quantitative", "scale": {"domain": [0, 0.005], "nice": false, "zero": true}, "axis": {"orient": "left", "title": "Concentration (M)", "values": [0, 0.0005, 0.001, 0.0015, 0.002, 0.0025, 0.003, 0.0035, 0.004, 0.0045, 0.005], "labelExpr": "round(datum.value/0.0005) % 2 == 1 ? '' : replace(format(datum.value, '.3f'), '0.', '.')"}},
            "y2": {"datum": 0.005}
          }
        },
        {
          "data": {"name": "p4"},
          "mark": {"type": "line", "strokeWidth": 1.2, "clip": true},
          "encoding": {
            "x": {"field": "t", "type": "quantitative", "axis": {"orient": "top", "title": null, "labels": false, "values": [0.5, 1, 1.5, 2, 2.5, 3, 3.5, 4, 4.5, 5]}},
            "y": {"field": "v", "type": "quantitative", "axis": {"orient": "right", "title": null, "labels": false, "values": [0, 0.0005, 0.001, 0.0015, 0.002, 0.0025, 0.003, 0.0035, 0.004, 0.0045, 0.005]}},
            "color": {"field": "s", "type": "nominal", "scale": {"domain": ["A", "B", "C"], "range": ["#000000", "#2238f0", "#f0283c"]}, "legend": null},
            "strokeDash": {"field": "s", "type": "nominal", "scale": {"domain": ["A", "B", "C"], "range": [[1, 0], [3, 2], [9, 4]]}, "legend": null}
          }
        }
      ],
      "resolve": {"axis": {"x": "independent", "y": "independent"}}
    }
  ]
}
